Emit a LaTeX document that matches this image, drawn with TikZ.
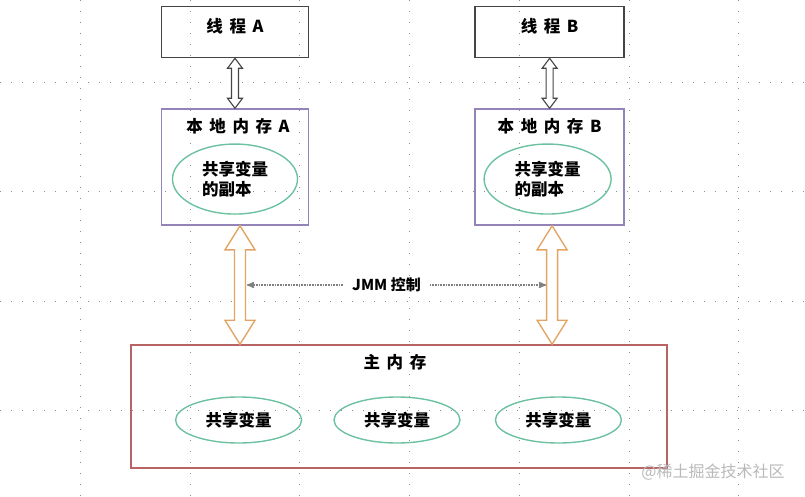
\documentclass[tikz,border=0pt]{standalone}
\usepackage{fontspec}
\setmainfont{Noto Sans CJK SC}
\usepackage{tikz}
\usetikzlibrary{arrows,positioning,calc}
\usetikzlibrary{shapes}

\definecolor{thgray}{HTML}{454545}
\definecolor{lpurple}{HTML}{9383B8}
\definecolor{vgreen}{HTML}{6CC2A0}
\definecolor{mred}{HTML}{B86464}
\definecolor{aorange}{HTML}{E3A566}

\newcommand{\diagfont}{\fontsize{16.5}{20}\selectfont\bfseries\setlength{\spaceskip}{0.4em}}

% hollow double arrow: from, to, shaft half width, head half width, head length, style
\newcommand{\hollowarrow}[6]{%
	\draw[#6] let \p1=(#1), \p2=(#2) in
	(\x1,\y1) -- (\x1+#4,\y1-#5) -- (\x1+#3,\y1-#5) -- (\x1+#3,\y2+#5) -- (\x1+#4,\y2+#5)
	-- (\x1,\y2) -- (\x1-#4,\y2+#5) -- (\x1-#3,\y2+#5) -- (\x1-#3,\y1-#5) -- (\x1-#4,\y1-#5) -- cycle;}

\begin{document}
\begin{tikzpicture}[x=1pt,y=1pt,>=stealth',font=\diagfont]
			\tikzstyle{thread}=[draw=thgray,line width=1.6pt,minimum width=147pt,minimum height=51pt]
			\tikzstyle{local}=[draw=lpurple,line width=1.5pt,minimum width=147pt,minimum height=116pt]
			\tikzstyle{var}=[ellipse,draw=vgreen,line width=1.4pt,inner sep=0pt,align=left]
			\tikzstyle{title}=[inner sep=0pt]
			\tikzstyle{tharrow}=[draw=thgray,line width=1.1pt,fill=white]
			\tikzstyle{mmarrow}=[draw=aorange,line width=1.4pt,fill=white]
			\tikzstyle{jmm}=[draw=gray,line width=1.5pt,dash pattern=on 0.8pt off 0.8pt,shorten >=0pt]
			\tikzstyle{grid}=[draw=gray!90,line width=0.9pt,dash pattern=on 0.9pt off 10.1pt]
			
			\useasboundingbox (0,0) rectangle (805,-497);
			
			% background dots
			\foreach \gx in {80,190,299,409,519,629,738}
				\draw[grid] (\gx,0) -- (\gx,-497);
			\foreach \gy in {82,191,301,410}
				\draw[grid] (0,-\gy) -- (805,-\gy);
			
			\node[thread]    (T1) at (235,-32)             {};
			\node[thread, minimum width=149pt]    (T2)[right=165pt of T1]	{};
			\node[title]     (T1t) at ($(T1.north)+(0,-20)$)   {线 程 A};
			\node[title]     (T2t) at ($(T2.north)+(0,-20)$)   {线 程 B};
			
			\node[local]    (L1)[below=50pt of T1]		{};
			\node[local, minimum width=149pt]    (L2)[below=50pt of T2]		{};
			\node[title]    (L1t) at ($(L1.north)+(3,-18)$)		{本 地 内 存 A};
			\node[title]    (L2t) at ($(L2.north)+(0,-18)$)		{本 地 内 存 B};
			\node[var, minimum width=125pt, minimum height=70pt]    (E1) at ($(L1.center)+(0,-12)$)	{共享变量\\的副本};
			\node[var, minimum width=127pt, minimum height=70pt]    (E2) at ($(L2.center)+(-2,-12)$)	{共享变量\\的副本};
			
			\node[draw=mred, line width=1.5pt, minimum width=536pt, minimum height=123pt]    (M) at (399,-406.5)	{};
			\node[title]    (Mt) at ($(M.north)+(-4,-18)$)		{主 内 存};
			\node[var, minimum width=126pt, minimum height=46pt]    (V2) at ($(M.center)+(-2,-13.5)$)	{共享变量};
			\node[var, minimum width=126pt, minimum height=46pt]    (V1)[left=31pt of V2]	{共享变量};
			\node[var, minimum width=126pt, minimum height=46pt]    (V3)[right=34pt of V2]	{共享变量};
			
			\node[inner xsep=9pt, font=\fontsize{15}{18}\selectfont\bfseries]    (J) at (386.5,-285)		{JMM 控制};
			\coordinate (JA) at ([xshift=12pt]L1.south |- J);
			\coordinate (JB) at ([xshift=-3.5pt]L2.south |- J);
			
			\hollowarrow{T1.south}{L1.north}{3.5pt}{7.5pt}{10pt}{tharrow}
			\hollowarrow{T2.south}{L2.north}{3.5pt}{7.5pt}{10pt}{tharrow}
			\hollowarrow{[xshift=5pt]L1.south}{L1.south |- M.north}{5.5pt}{15pt}{24pt}{mmarrow}
			\hollowarrow{[xshift=2.5pt]L2.south}{L2.south |- M.north}{5.5pt}{15pt}{24pt}{mmarrow}
			
			\path
			(J) edge[jmm, ->] (JA)
			(J) edge[jmm, ->] (JB);
			
			\node[text=gray!55, font=\fontsize{16}{18}\selectfont]    (W) at (713,-472)	{@稀土掘金技术社区};
			\end{tikzpicture}
\end{document}
